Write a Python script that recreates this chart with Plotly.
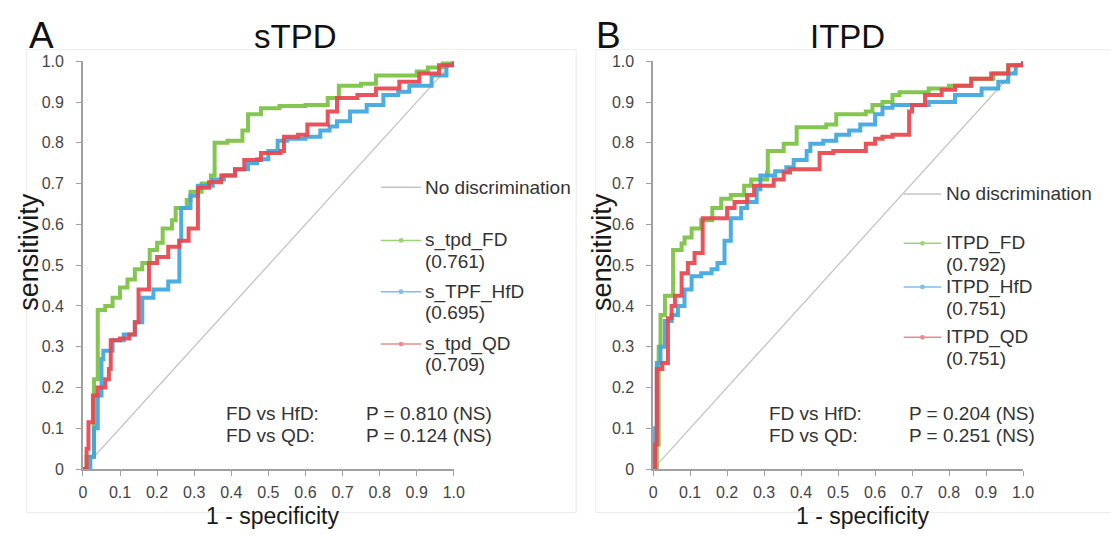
import plotly.graph_objects as go

FW, FH = 1111, 540

# ---------------- data ----------------
# Panel A : sTPD
a_fd_x = [0, 0.01, 0.03, 0.04, 0.06, 0.08, 0.10, 0.12, 0.14, 0.16, 0.18, 0.20, 0.215, 0.24, 0.25, 0.28, 0.29, 0.32,
          0.345, 0.355, 0.39, 0.43, 0.445, 0.48, 0.53, 0.60, 0.66, 0.69, 0.75, 0.79, 0.90, 0.93, 0.97, 1.0]
a_fd_y = [0, 0.03, 0.22, 0.39, 0.40, 0.42, 0.445, 0.465, 0.49, 0.505, 0.537, 0.555, 0.59, 0.61, 0.64, 0.66, 0.68, 0.70,
          0.72, 0.80, 0.805, 0.83, 0.87, 0.885, 0.89, 0.893, 0.91, 0.94, 0.945, 0.965, 0.975, 0.985, 0.995, 1.0]

a_hfd_x = [0, 0.02, 0.03, 0.04, 0.05, 0.055, 0.08, 0.11, 0.14, 0.16, 0.19, 0.23, 0.26, 0.265, 0.29, 0.31, 0.35, 0.38,
           0.41, 0.445, 0.47, 0.50, 0.525, 0.55, 0.60, 0.64, 0.665, 0.685, 0.72, 0.765, 0.81, 0.85, 0.88, 0.94, 0.98, 1.0]
a_hfd_y = [0, 0.03, 0.10, 0.18, 0.27, 0.29, 0.316, 0.33, 0.36, 0.42, 0.44, 0.46, 0.56, 0.64, 0.67, 0.695, 0.71, 0.72,
           0.735, 0.75, 0.76, 0.78, 0.805, 0.81, 0.815, 0.83, 0.84, 0.853, 0.877, 0.893, 0.917, 0.925, 0.94, 0.965, 0.99, 1.0]

a_qd_x = [0, 0.01, 0.015, 0.027, 0.04, 0.06, 0.07, 0.075, 0.10, 0.125, 0.14, 0.15, 0.178, 0.20, 0.23, 0.26, 0.285,
          0.31, 0.34, 0.373, 0.41, 0.435, 0.48, 0.533, 0.542, 0.58, 0.605, 0.66, 0.685, 0.74, 0.79, 0.853, 0.907, 0.96, 1.0]
a_qd_y = [0, 0.05, 0.115, 0.18, 0.20, 0.22, 0.245, 0.316, 0.32, 0.33, 0.36, 0.44, 0.505, 0.52, 0.545, 0.56, 0.59,
          0.69, 0.703, 0.72, 0.735, 0.758, 0.775, 0.78, 0.815, 0.82, 0.845, 0.877, 0.91, 0.917, 0.933, 0.95, 0.97, 0.99, 1.0]

# Panel B : ITPD
b_fd_x = [0, 0.01, 0.015, 0.02, 0.032, 0.054, 0.077, 0.085, 0.104, 0.13, 0.16, 0.184, 0.21, 0.246, 0.265, 0.308, 0.31,
          0.353, 0.388, 0.468, 0.495, 0.575, 0.593, 0.62, 0.647, 0.666, 0.745, 0.80, 0.86, 0.92, 0.96, 1.0]
b_fd_y = [0, 0.06, 0.30, 0.378, 0.425, 0.537, 0.553, 0.568, 0.59, 0.61, 0.64, 0.663, 0.672, 0.695, 0.71, 0.727, 0.78,
          0.798, 0.838, 0.845, 0.87, 0.877, 0.893, 0.90, 0.917, 0.924, 0.933, 0.94, 0.957, 0.97, 0.99, 1.0]

b_hfd_x = [0, 0.005, 0.01, 0.02, 0.032, 0.05, 0.067, 0.085, 0.104, 0.13, 0.158, 0.174, 0.193, 0.21, 0.238, 0.254, 0.28,
           0.29, 0.33, 0.36, 0.38, 0.415, 0.425, 0.46, 0.495, 0.53, 0.56, 0.60, 0.62, 0.647, 0.745, 0.816, 0.888, 0.933,
           0.96, 0.98, 1.0]
b_hfd_y = [0, 0.10, 0.26, 0.30, 0.363, 0.378, 0.40, 0.44, 0.473, 0.48, 0.49, 0.505, 0.56, 0.615, 0.64, 0.655, 0.686,
           0.72, 0.73, 0.74, 0.758, 0.78, 0.798, 0.805, 0.82, 0.83, 0.845, 0.87, 0.886, 0.893, 0.90, 0.917, 0.933, 0.95,
           0.97, 0.99, 1.0]

b_qd_x = [0, 0.005, 0.01, 0.025, 0.04, 0.05, 0.059, 0.077, 0.094, 0.112, 0.134, 0.20, 0.22, 0.254, 0.273, 0.326, 0.353,
          0.37, 0.45, 0.487, 0.575, 0.60, 0.62, 0.647, 0.692, 0.70, 0.735, 0.78, 0.816, 0.86, 0.914, 0.96, 1.0]
b_qd_y = [0, 0.06, 0.245, 0.26, 0.37, 0.40, 0.425, 0.48, 0.505, 0.53, 0.615, 0.64, 0.655, 0.672, 0.695, 0.71, 0.727,
          0.735, 0.775, 0.78, 0.798, 0.81, 0.815, 0.82, 0.877, 0.893, 0.917, 0.93, 0.94, 0.957, 0.97, 0.99, 1.0]

diag = [0, 1]

panel_titles = ["sTPD", "ITPD"]
panel_letters = ["A", "B"]
names_a = ["s_tpd_FD", "s_TPF_HfD", "s_tpd_QD"]
names_b = ["ITPD_FD", "ITPD_HfD", "ITPD_QD"]
auc_a = ["0.761", "0.695", "0.709"]
auc_b = ["0.792", "0.751", "0.751"]
comparisons = ["FD vs HfD:", "FD vs QD:"]
p_a = ["P = 0.810 (NS)", "P = 0.124 (NS)"]
p_b = ["P = 0.204 (NS)", "P = 0.251 (NS)"]
tick_vals = [0, 0.1, 0.2, 0.3, 0.4, 0.5, 0.6, 0.7, 0.8, 0.9, 1.0]
tick_text = ["0", "0.1", "0.2", "0.3", "0.4", "0.5", "0.6", "0.7", "0.8", "0.9", "1.0"]

# ---------------- style ----------------
FONT = "Liberation Sans, Arial, sans-serif"
COLORS = ["#7cc244", "#3fa6de", "#e8464f"]
LEG_COLORS = ["#9fd37a", "#7fbfe6", "#ee8a8f"]
DIAG_COLOR = "#c4c4c4"
AXIS_COLOR = "#a0a0a0"


def px(x):
    return x / FW


def py(y):
    return 1 - y / FH


fig = go.Figure()

panels = [
    dict(xa="x", ya="y", curves=[(a_fd_x, a_fd_y), (a_hfd_x, a_hfd_y), (a_qd_x, a_qd_y)], names=names_a),
    dict(xa="x2", ya="y2", curves=[(b_fd_x, b_fd_y), (b_hfd_x, b_hfd_y), (b_qd_x, b_qd_y)], names=names_b),
]

for p in panels:
    fig.add_trace(go.Scatter(x=diag, y=diag, mode="lines", xaxis=p["xa"], yaxis=p["ya"],
                             line=dict(color=DIAG_COLOR, width=1.3), showlegend=False, hoverinfo="skip"))
    for (cx, cy), nm, col in zip(p["curves"], p["names"], COLORS):
        fig.add_trace(go.Scatter(x=cx, y=cy, mode="lines", name=nm, xaxis=p["xa"], yaxis=p["ya"],
                                 line=dict(color=col, width=4, shape="hv"), opacity=0.92,
                                 showlegend=False))

axis_common = dict(range=[0, 1], tickvals=tick_vals, ticktext=tick_text, showgrid=False, zeroline=False,
                   showline=True, linecolor=AXIS_COLOR, linewidth=1.5, ticks="outside", ticklen=5,
                   tickcolor=AXIS_COLOR, tickwidth=1.2,
                   tickfont=dict(family=FONT, size=16, color="#454545"))

yd = [py(476), py(55)]
fig.update_layout(
    width=FW, height=FH, margin=dict(l=0, r=0, t=0, b=0),
    paper_bgcolor="white", plot_bgcolor="white", showlegend=False,
    xaxis=dict(domain=[px(80), px(456)], anchor="y", ticklabelstandoff=3, **axis_common),
    yaxis=dict(domain=yd, anchor="x", ticklabelstandoff=9, **axis_common),
    xaxis2=dict(domain=[px(658), px(1033)], anchor="y2", ticklabelstandoff=3, **axis_common),
    yaxis2=dict(domain=yd, anchor="x2", ticklabelstandoff=9, **axis_common),
)

ann = []
shapes = []


def text(x, y, s, size=19, color="#333333", xanchor="left", angle=0):
    ann.append(dict(x=px(x), y=py(y), xref="paper", yref="paper", text=s, showarrow=False,
                    xanchor=xanchor, yanchor="middle", textangle=angle,
                    font=dict(family=FONT, size=size, color=color)))


# panel frames (faint chart-area borders)
for (x0, x1) in [(23, 580), (600, 1130)]:
    shapes.append(dict(type="rect", xref="paper", yref="paper", x0=px(x0), x1=px(x1), y0=py(521), y1=py(43),
                       line=dict(color="#ececec", width=1), layer="below"))

# titles
text(38, 28, panel_letters[0], size=37, color="#111111", xanchor="center")
text(295, 29, panel_titles[0], size=33, color="#111111", xanchor="center")
text(613, 28, panel_letters[1], size=37, color="#111111", xanchor="center")
text(855, 29, panel_titles[1], size=33, color="#111111", xanchor="center")

# axis titles
for cx, yt in [(272, 25), (870, 606)]:
    text(cx, 524, "1 - specificity", size=23, color="#1a1a1a", xanchor="center")
    text(yt, 252, "sensitivity", size=27, color="#1a1a1a", xanchor="center", angle=-90)

# legends
legs = [
    dict(lx0=382, lx1=423, tx=425, nd=185, rows=[(240, 262), (293, 314), (347, 368)], names=names_a, auc=auc_a),
    dict(lx0=912, lx1=950, tx=953, nd=192, rows=[(243, 265), (288, 310), (340, 362)], names=names_b, auc=auc_b),
]
for lg in legs:
    shapes.append(dict(type="line", xref="paper", yref="paper", x0=px(lg["lx0"]), x1=px(lg["lx1"]),
                       y0=py(lg["nd"]), y1=py(lg["nd"]), line=dict(color=DIAG_COLOR, width=1.5)))
    text(lg["tx"], lg["nd"], "No discrimination")
    for (r1, r2), nm, au, col in zip(lg["rows"], lg["names"], lg["auc"], LEG_COLORS):
        shapes.append(dict(type="line", xref="paper", yref="paper", x0=px(lg["lx0"]), x1=px(lg["lx1"]),
                           y0=py(r1), y1=py(r1), line=dict(color=col, width=1.5)))
        cxm = (lg["lx0"] + lg["lx1"]) / 2
        shapes.append(dict(type="circle", xref="paper", yref="paper", x0=px(cxm - 2.5), x1=px(cxm + 2.5),
                           y0=py(r1 + 2.5), y1=py(r1 - 2.5), fillcolor=col, line=dict(color=col, width=0)))
        text(lg["tx"], r1, nm)
        text(lg["tx"], r2, "(" + au + ")")

# comparison statistics
for cx, pxs, pv in [(223, 365, p_a), (773, 915, p_b)]:
    for r, c, v in zip((419, 441), comparisons, pv):
        text(cx, r, c)
        text(pxs, r, v)

fig.update_layout(annotations=ann, shapes=shapes)

# remove the default page margin so the 1111x540 figure exactly fills the window
page_css = ("document.body.style.margin='0';document.body.style.overflow='hidden';"
            "document.documentElement.style.overflow='hidden';")
fig.write_html("out.html", post_script=page_css, config={"displayModeBar": False})
